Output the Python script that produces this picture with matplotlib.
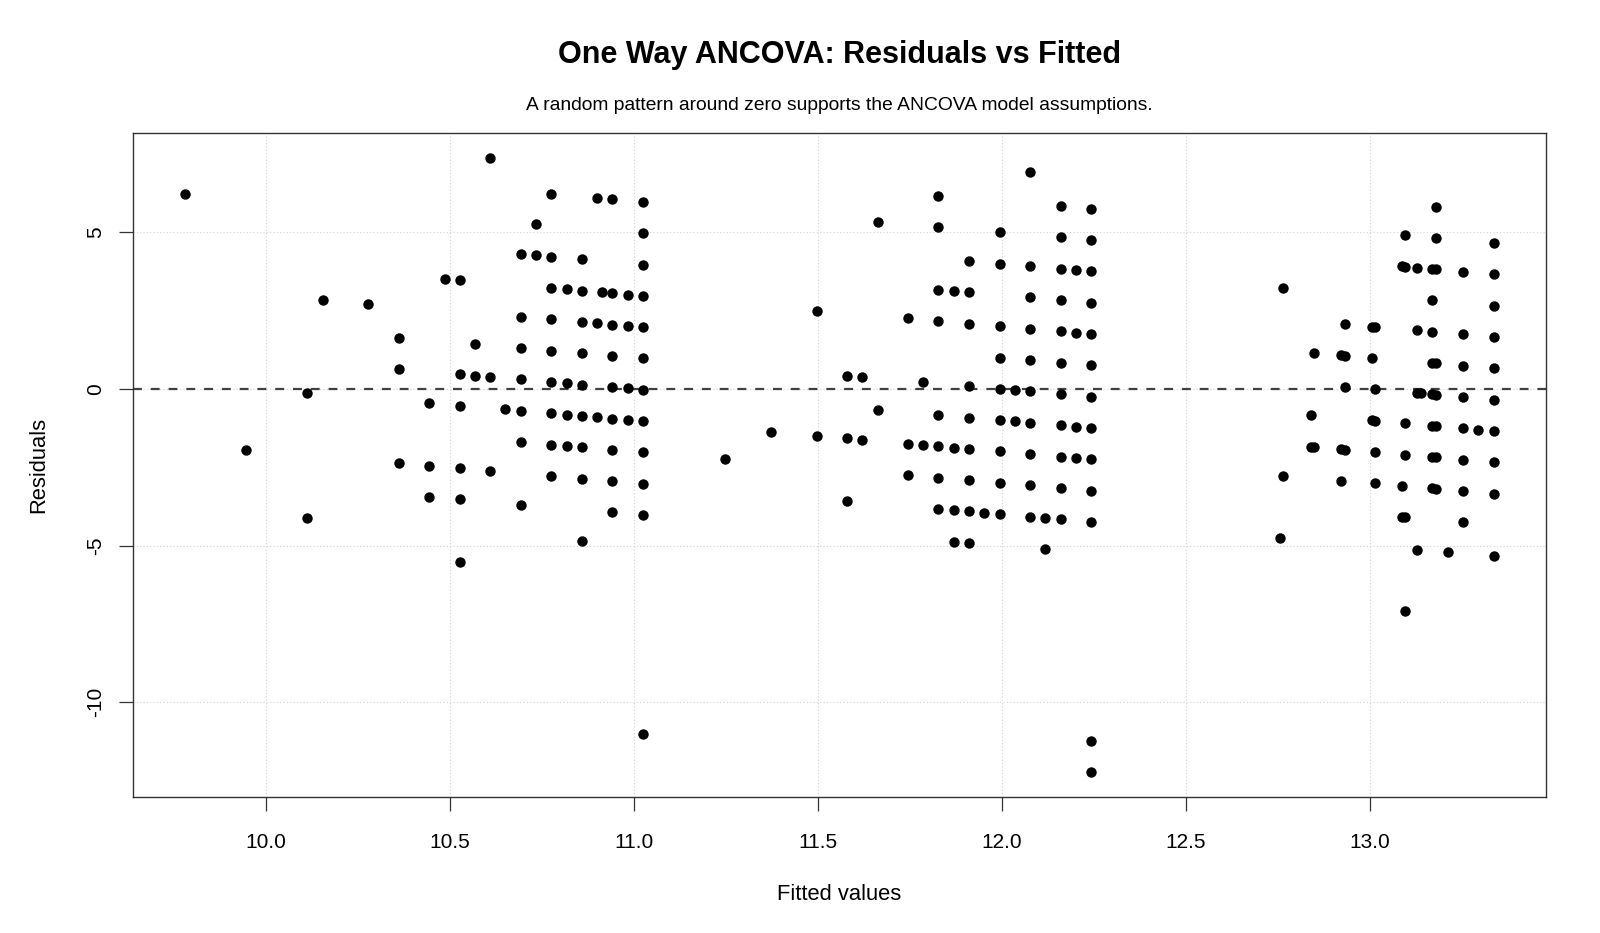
import numpy as np
import matplotlib
matplotlib.use("Agg")
from matplotlib import pyplot as plt

plt.rcParams['font.family'] = ['Liberation Sans', 'DejaVu Sans']
plt.rcParams['axes.unicode_minus'] = False

# fitted values / residuals, one pair of lists per cluster
g1_fitted = [9.780, 9.946, 10.112, 10.112, 10.153, 10.277,
             10.360, 10.360, 10.360, 10.443, 10.443, 10.443, 10.485,
             10.526, 10.526, 10.526, 10.526, 10.526, 10.526,
             10.568, 10.568, 10.609, 10.609, 10.609, 10.650,
             10.692, 10.692, 10.692, 10.692, 10.692, 10.692, 10.692,
             10.733, 10.733,
             10.775, 10.775, 10.775, 10.775, 10.775, 10.775, 10.775, 10.775, 10.775,
             10.816, 10.816, 10.816, 10.816,
             10.858, 10.858, 10.858, 10.858, 10.858, 10.858, 10.858, 10.858, 10.858,
             10.899, 10.899, 10.899, 10.912,
             10.941, 10.941, 10.941, 10.941, 10.941, 10.941, 10.941, 10.941, 10.941,
             10.982, 10.982, 10.982, 10.982,
             11.024, 11.024, 11.024, 11.024, 11.024, 11.024, 11.024, 11.024,
             11.024, 11.024, 11.024, 11.024]
g1_resid = [6.220, -1.946, -0.112, -4.112, 2.847, 2.723,
            1.640, 0.640, -2.360, -0.443, -2.443, -3.443, 3.515,
            3.474, 0.474, -0.526, -2.526, -3.526, -5.526,
            1.432, 0.432, 7.391, 0.391, -2.609, -0.650,
            4.308, 2.308, 1.308, 0.308, -0.692, -1.692, -3.692,
            5.267, 4.267,
            6.225, 4.225, 3.225, 2.225, 1.225, 0.225, -0.775, -1.775, -2.775,
            3.184, 0.184, -0.816, -1.816,
            4.142, 3.142, 2.142, 1.142, 0.142, -0.858, -1.858, -2.858, -4.858,
            6.101, 2.101, -0.899, 3.088,
            6.059, 3.059, 2.059, 1.059, 0.059, -0.941, -1.941, -2.941, -3.941,
            3.018, 2.018, 0.018, -0.982,
            5.976, 4.976, 3.976, 2.976, 1.976, 0.976, -0.024, -1.024,
            -2.024, -3.024, -4.024, -11.024]

g2_fitted = [11.247, 11.371, 11.496, 11.496, 11.579, 11.579, 11.579,
             11.620, 11.620, 11.662, 11.662, 11.744, 11.744, 11.744,
             11.786, 11.786,
             11.827, 11.827, 11.827, 11.827, 11.827, 11.827, 11.827, 11.827,
             11.869, 11.869, 11.869, 11.869,
             11.910, 11.910, 11.910, 11.910, 11.910, 11.910, 11.910, 11.910, 11.910,
             11.952,
             11.993, 11.993, 11.993, 11.993, 11.993, 11.993, 11.993, 11.993, 11.993,
             12.035, 12.035,
             12.076, 12.076, 12.076, 12.076, 12.076, 12.076, 12.076, 12.076,
             12.076, 12.076,
             12.117, 12.117,
             12.159, 12.159, 12.159, 12.159, 12.159, 12.159, 12.159, 12.159,
             12.159, 12.159, 12.159,
             12.200, 12.200, 12.200, 12.200,
             12.242, 12.242, 12.242, 12.242, 12.242, 12.242, 12.242, 12.242,
             12.242, 12.242, 12.242, 12.242, 12.242]
g2_resid = [-2.247, -1.371, 2.504, -1.496, 0.421, -1.579, -3.579,
            0.380, -1.620, 5.338, -0.662, 2.256, -1.744, -2.744,
            0.214, -1.786,
            6.173, 5.173, 3.173, 2.173, -0.827, -1.827, -2.827, -3.827,
            3.131, -1.869, -3.869, -4.869,
            4.090, 3.090, 2.090, 0.090, -0.910, -1.910, -2.910, -3.910, -4.910,
            -3.952,
            5.007, 4.007, 2.007, 1.007, 0.007, -0.993, -1.993, -2.993, -3.993,
            -0.035, -1.035,
            6.924, 3.924, 2.924, 1.924, 0.924, -0.076, -1.076, -2.076,
            -3.076, -4.076,
            -4.117, -5.117,
            5.841, 4.841, 3.841, 2.841, 1.841, 0.841, -0.159, -1.159,
            -2.159, -3.159, -4.159,
            3.800, 1.800, -1.200, -2.200,
            5.758, 4.758, 3.758, 2.758, 1.758, 0.758, -0.242, -1.242,
            -2.242, -3.242, -4.242, -11.242, -12.242]

g3_fitted = [12.755, 12.764, 12.764, 12.839, 12.839, 12.847, 12.847,
             12.921, 12.921, 12.921, 12.932, 12.932, 12.932, 12.932,
             13.004, 13.004, 13.004, 13.014, 13.014, 13.014, 13.014, 13.014,
             13.086, 13.086, 13.086,
             13.096, 13.096, 13.096, 13.096, 13.096, 13.096,
             13.128, 13.128, 13.128, 13.128, 13.139,
             13.168, 13.168, 13.168, 13.168, 13.168, 13.168, 13.168, 13.168,
             13.179, 13.179, 13.179, 13.179, 13.179, 13.179, 13.179, 13.179,
             13.212,
             13.254, 13.254, 13.254, 13.254, 13.254, 13.254, 13.254, 13.254,
             13.294,
             13.336, 13.336, 13.336, 13.336, 13.336, 13.336, 13.336, 13.336,
             13.336, 13.336]
g3_resid = [-4.755, 3.236, -2.764, -0.839, -1.839, 1.153, -1.847,
            1.079, -1.921, -2.921, 2.068, 1.068, 0.068, -1.932,
            1.996, 0.996, -1.004, 1.986, -0.014, -1.014, -2.014, -3.014,
            3.914, -3.086, -4.086,
            4.904, 3.904, -1.096, -2.096, -4.096, -7.096,
            3.872, 1.872, -0.128, -5.128, -0.139,
            3.832, 2.832, 1.832, 0.832, -0.168, -1.168, -2.168, -3.168,
            5.821, 4.821, 3.821, 0.821, -0.179, -1.179, -2.179, -3.179,
            -5.212,
            3.746, 1.746, 0.746, -0.254, -1.254, -2.254, -3.254, -4.254,
            -1.294,
            4.664, 3.664, 2.664, 1.664, 0.664, -0.336, -1.336, -2.336,
            -3.336, -5.336]

x_ticks = [10.0, 10.5, 11.0, 11.5, 12.0, 12.5, 13.0]
x_labels = ["10.0", "10.5", "11.0", "11.5", "12.0", "12.5", "13.0"]
y_ticks = [-10, -5, 0, 5]
y_labels = ["-10", "-5", "0", "5"]

fitted = np.array(g1_fitted + g2_fitted + g3_fitted)
resid = np.array(g1_resid + g2_resid + g3_resid)

W, H = 1600, 933
fig = plt.figure(figsize=(W / 100, H / 100), dpi=100)
L, R, T, B = 133, 1546, 133, 797
ax = fig.add_axes([L / W, 1 - B / H, (R - L) / W, (B - T) / H])

# R style 4% axis padding
def r_lim(v):
    lo, hi = v.min(), v.max()
    pad = (hi - lo) * 0.04
    return lo - pad, hi + pad

ax.set_xlim(*r_lim(fitted))
ax.set_ylim(*r_lim(resid))

for xt in x_ticks:
    ax.axvline(xt, color='#d3d3d3', lw=0.8, ls=(0, (1, 2)), zorder=0)
for yt in y_ticks:
    ax.axhline(yt, color='#d3d3d3', lw=0.8, ls=(0, (1, 2)), zorder=0)

ax.axhline(0, color='#404040', lw=1.6, ls=(0, (4, 4)), zorder=1)
ax.plot(fitted, resid, 'o', color='black', ms=7.5, mew=0, zorder=2)

ax.set_xticks(x_ticks)
ax.set_xticklabels(x_labels)
ax.set_yticks(y_ticks)
ax.set_yticklabels(y_labels, rotation=90, va='center')
ax.tick_params(direction='out', length=10, width=0.9, labelsize=15,
               color='#333333')
ax.tick_params(axis='x', pad=16)
ax.tick_params(axis='y', pad=10)
for s in ax.spines.values():
    s.set_color('#333333')
    s.set_linewidth(1.0)

cx = (L + R) / 2 / W
fig.text(cx, 1 - 55 / H, "One Way ANCOVA: Residuals vs Fitted",
         ha='center', va='center', fontsize=22, fontweight='bold')
fig.text(cx, 1 - 106 / H,
         "A random pattern around zero supports the ANCOVA model assumptions.",
         ha='center', va='center', fontsize=13.9)
fig.text(cx, 1 - 895 / H, "Fitted values", ha='center', va='center', fontsize=15.8)
fig.text(39 / W, 1 - 465 / H, "Residuals", ha='center', va='center',
         rotation=90, fontsize=15.8)

plt.savefig('out.png', dpi=100)
